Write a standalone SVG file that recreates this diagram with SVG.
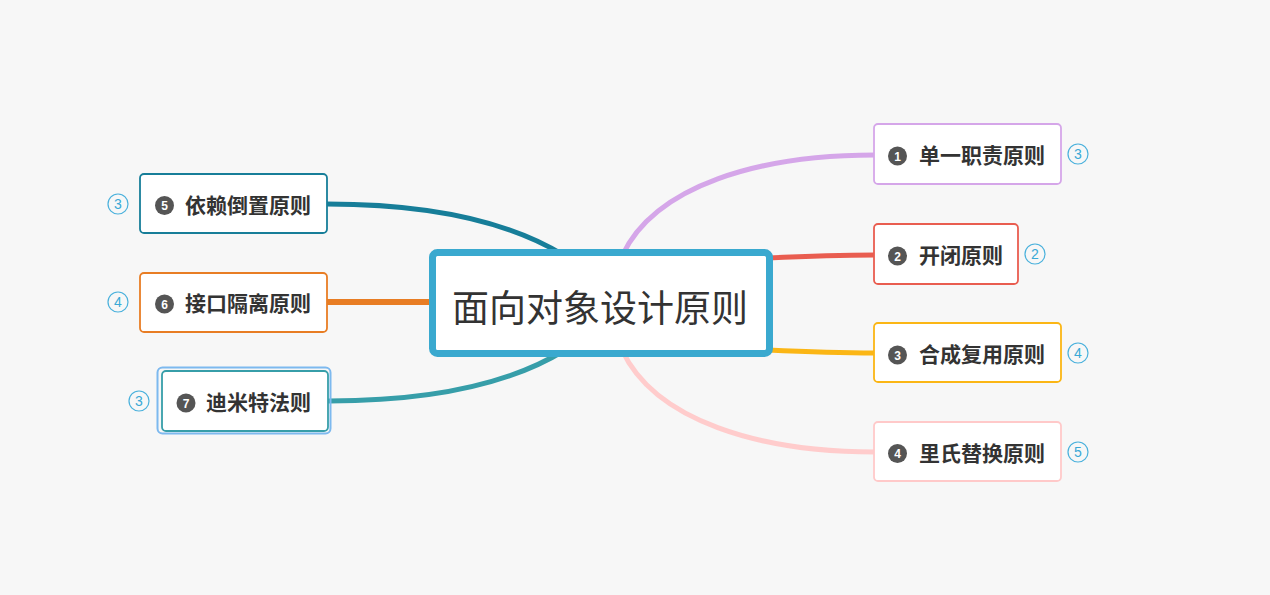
<svg xmlns="http://www.w3.org/2000/svg" width="1270" height="595" viewBox="0 0 1270 595">
<style>
.bg{fill:#f7f7f7}
.conn{fill:none;stroke-linecap:round}
.node{fill:#ffffff;stroke-width:1.8}
.lbl{font-family:"Noto Sans CJK SC","Noto Sans",sans-serif;font-weight:bold;font-size:21px;fill:#333333}
.root{font-family:"Noto Sans CJK SC","Noto Sans",sans-serif;font-size:37px;fill:#333333}
.bdg{fill:#555555}
.bnum{font-family:"Liberation Sans",Arial,sans-serif;font-weight:bold;font-size:12px;fill:#ffffff;text-anchor:middle}
.cnt{fill:none;stroke:#4ab1dc;stroke-width:1.2}
.cnum{font-family:"Liberation Sans",Arial,sans-serif;font-size:14px;fill:#3aa9d6;text-anchor:middle}
</style>
<rect class="bg" x="0" y="0" width="1270" height="595"/>
<g id="connectors">
<path class="conn" d="M622,256 C655,185 760,155 875,155" stroke="#d5a6e9" stroke-width="5"/>
<path class="conn" d="M768,258 C810,256 840,255 875,255" stroke="#e95d50" stroke-width="5"/>
<path class="conn" d="M768,350 C810,352 840,353 875,353" stroke="#fbb615" stroke-width="5"/>
<path class="conn" d="M622,350 C655,421 760,452 875,452" stroke="#ffcccc" stroke-width="5"/>
<path class="conn" d="M327,204 C430,204 510,222 565,256" stroke="#177e99" stroke-width="5"/>
<path class="conn" d="M327,302 L434,302" stroke="#e87d24" stroke-width="6"/>
<path class="conn" d="M329,401 C430,401 510,384 565,350" stroke="#379ea9" stroke-width="5"/>
</g>
<g id="root">
<rect x="432.5" y="252.5" width="337" height="101" rx="5" fill="#ffffff" stroke="#3aa9cf" stroke-width="7"/>
<text class="root" x="600" y="322" text-anchor="middle">面向对象设计原则</text>
</g>
<g id="node1">
<rect class="node" x="874" y="124" width="187" height="60" rx="4" stroke="#d5a6e9"/>
<circle class="bdg" cx="897.5" cy="156" r="9.5"/>
<text class="bnum" x="897.5" y="160.5">1</text>
<text class="lbl" x="919" y="163">单一职责原则</text>
<circle class="cnt" cx="1078" cy="154" r="10"/>
<text class="cnum" x="1078" y="159">3</text>
</g>
<g id="node2">
<rect class="node" x="874" y="224" width="144" height="60" rx="4" stroke="#e95d50"/>
<circle class="bdg" cx="897.5" cy="256" r="9.5"/>
<text class="bnum" x="897.5" y="260.5">2</text>
<text class="lbl" x="919" y="263">开闭原则</text>
<circle class="cnt" cx="1035" cy="254" r="10"/>
<text class="cnum" x="1035" y="259">2</text>
</g>
<g id="node3">
<rect class="node" x="874" y="323" width="187" height="59" rx="4" stroke="#fbb615"/>
<circle class="bdg" cx="897.5" cy="355" r="9.5"/>
<text class="bnum" x="897.5" y="359.5">3</text>
<text class="lbl" x="919" y="362">合成复用原则</text>
<circle class="cnt" cx="1078" cy="353" r="10"/>
<text class="cnum" x="1078" y="358">4</text>
</g>
<g id="node4">
<rect class="node" x="874" y="422" width="187" height="59" rx="4" stroke="#ffc9c9"/>
<circle class="bdg" cx="897.5" cy="453.5" r="9.5"/>
<text class="bnum" x="897.5" y="458">4</text>
<text class="lbl" x="919" y="460.5">里氏替换原则</text>
<circle class="cnt" cx="1078" cy="452" r="10"/>
<text class="cnum" x="1078" y="457">5</text>
</g>
<g id="node5">
<rect class="node" x="140" y="174" width="187" height="59" rx="4" stroke="#177e99"/>
<circle class="bdg" cx="164.5" cy="205.5" r="9.5"/>
<text class="bnum" x="164.5" y="210">5</text>
<text class="lbl" x="185" y="212.5">依赖倒置原则</text>
<circle class="cnt" cx="118" cy="204" r="10"/>
<text class="cnum" x="118" y="209">3</text>
</g>
<g id="node6">
<rect class="node" x="140" y="273" width="187" height="59" rx="4" stroke="#e87d24"/>
<circle class="bdg" cx="164.5" cy="304" r="9.5"/>
<text class="bnum" x="164.5" y="308.5">6</text>
<text class="lbl" x="185" y="310.5">接口隔离原则</text>
<circle class="cnt" cx="118" cy="302" r="10"/>
<text class="cnum" x="118" y="307">4</text>
</g>
<g id="node7">
<rect x="157.5" y="367.5" width="173" height="66" rx="5" fill="none" stroke="#7db9ef" stroke-width="2"/>
<rect class="node" x="162" y="371" width="166" height="60" rx="4" stroke="#379ea9"/>
<circle class="bdg" cx="186" cy="403" r="9.5"/>
<text class="bnum" x="186" y="407.5">7</text>
<text class="lbl" x="206" y="410">迪米特法则</text>
<circle class="cnt" cx="139" cy="401" r="10"/>
<text class="cnum" x="139" y="406">3</text>
</g>
</svg>
